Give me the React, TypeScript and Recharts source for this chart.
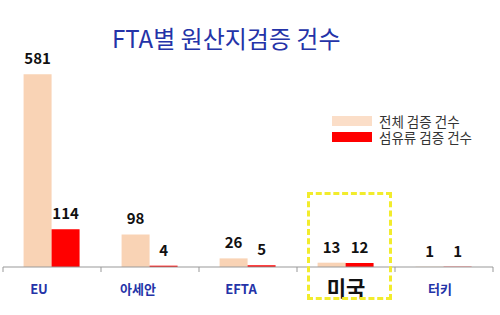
import React from "react"
import { BarChart, Bar, XAxis, YAxis, LabelList } from "recharts"

const CATEGORIES = ["EU", "아세안", "EFTA", "미국", "터키"]
const TOTAL = [581, 98, 26, 13, 1]
const TEXTILE = [114, 4, 5, 12, 1]
const SERIES_NAMES = ["전체 검증 건수", "섬유류 검증 건수"]

const DATA = CATEGORIES.map((name, i) => ({ name, total: TOTAL[i], textile: TEXTILE[i] }))

const W = 500
const H = 315
const M = { top: 68, right: 7, left: 3, bottom: 8 }
const X_AXIS_H = 40
const AXIS_Y = H - M.bottom - X_AXIS_H
const BAND = (W - M.left - M.right) / CATEGORIES.length
const FONT = '"Noto Sans CJK KR", "Noto Sans", sans-serif'
const PEACH = "#f9d3b5"
const RED = "#ff0000"
const BLUE = "#2433a8"

// nudges so the category names sit like the original slide
const TICK_DX = [-13, -12, -7, 0, -4]

function CategoryTick(props: any) {
  const { x, payload, index } = props
  const hi = payload.value === "미국"
  return (
    <g>
      <line x1={x - BAND / 2} x2={x - BAND / 2} y1={AXIS_Y} y2={AXIS_Y + 5} stroke="#999" />
      {index === CATEGORIES.length - 1 && (
        <line x1={x + BAND / 2} x2={x + BAND / 2} y1={AXIS_Y} y2={AXIS_Y + 5} stroke="#999" />
      )}
      <text
        x={x + (TICK_DX[index] || 0)}
        y={hi ? AXIS_Y + 29 : AXIS_Y + 27}
        textAnchor="middle"
        fontFamily={FONT}
        fontWeight={700}
        fontSize={hi ? 21 : 13}
        fill={hi ? "#111" : BLUE}
      >
        {payload.value}
      </text>
    </g>
  )
}

function LegendBox() {
  const colors = [PEACH, RED]
  return (
    <div style={{ position: "absolute", left: 332, top: 113, fontFamily: FONT, fontSize: 13.5, color: "#333", lineHeight: "16px" }}>
      {SERIES_NAMES.map((n, i) => (
        <div key={n} style={{ display: "flex", alignItems: "center", height: 16, whiteSpace: "nowrap" }}>
          <span style={{ width: 40, height: 10, background: colors[i], marginRight: 7, opacity: i === 0 ? 0.75 : 1 }} />
          {n}
        </div>
      ))}
    </div>
  )
}

export default function App() {
  return (
    <div style={{ position: "absolute", left: 0, top: 0, width: W, height: H, background: "#fff" }}>
      <div
        style={{
          position: "absolute",
          left: 112,
          top: 20,
          fontFamily: FONT,
          fontSize: 24,
          color: BLUE,
          whiteSpace: "nowrap",
        }}
      >
        FTA별 원산지검증 건수
      </div>
      <BarChart width={W} height={H} data={DATA} margin={M} barCategoryGap="21%" barGap={0}>
        <XAxis
          dataKey="name"
          height={X_AXIS_H}
          axisLine={{ stroke: "#999" }}
          tickLine={false}
          tick={<CategoryTick />}
          interval={0}
        />
        <YAxis hide domain={[0, 600]} />
        <Bar dataKey="total" name={SERIES_NAMES[0]} fill={PEACH} isAnimationActive={false}>
          <LabelList
            dataKey="total"
            position="top"
            offset={10}
            style={{ fill: "#111", fontWeight: 700, fontSize: 15, fontFamily: FONT }}
          />
        </Bar>
        <Bar dataKey="textile" name={SERIES_NAMES[1]} fill={RED} isAnimationActive={false}>
          <LabelList
            dataKey="textile"
            position="top"
            offset={10}
            style={{ fill: "#111", fontWeight: 700, fontSize: 15, fontFamily: FONT }}
          />
        </Bar>
      </BarChart>
      <LegendBox />
      <div
        style={{
          position: "absolute",
          left: 307,
          top: 192,
          width: 85,
          height: 108,
          boxSizing: "border-box",
          border: "3px dashed #f2ec2c",
          pointerEvents: "none",
        }}
      />
    </div>
  )
}
